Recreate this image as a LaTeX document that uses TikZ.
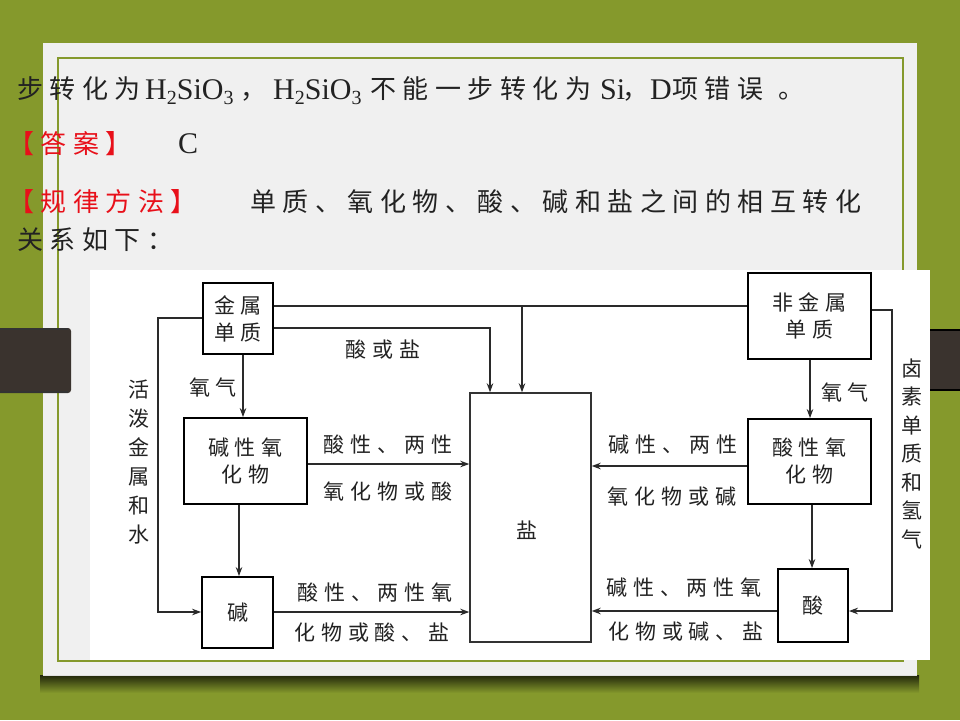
\documentclass[tikz,border=0pt]{standalone}
\usepackage{fontspec}
\setmainfont{Liberation Serif}
\newfontfamily\cjk{Noto Sans CJK SC}[LetterSpace=25]
\newfontfamily\dcjk{Noto Sans CJK SC}[LetterSpace=28]
\usetikzlibrary{arrows.meta}
\definecolor{bg}{HTML}{85992C}
\definecolor{card}{HTML}{F0F0F0}
\definecolor{barc}{HTML}{3A332E}
\definecolor{txt}{HTML}{222222}
\definecolor{redt}{HTML}{E8101A}
\definecolor{dline}{HTML}{2A2A2A}
\newcommand\subn[1]{\raisebox{-5pt}{\fontsize{20}{20}\selectfont #1}}
\tikzset{
  toptxt/.style={anchor=base west, inner sep=0, text=txt, font=\cjk\fontsize{26}{26}\selectfont},
  latxt/.style={anchor=base west, inner sep=0, text=txt, font=\fontsize{30}{30}\selectfont},
  redtxt/.style={toptxt, text=redt},
  box/.style={draw=black, line width=1.8pt, inner sep=0, align=center, text=txt,
              font=\dcjk\fontsize{21}{27}\selectfont},
  lbl/.style={inner sep=0, text=txt, font=\dcjk\fontsize{21}{27}\selectfont},
  conn/.style={draw=dline, line width=1.4pt},
  arr/.style={conn, -{Stealth[length=9pt,width=6.5pt]}}
}
\begin{document}
\begin{tikzpicture}[x=1pt,y=-1pt]
\useasboundingbox (0,0) rectangle (960,720);
% background
\fill[bg] (0,0) rectangle (960,720);
\shade[top color=black!75!bg, bottom color=bg] (40,675) rectangle (919,693);
\fill[card] (43,43) rectangle (917,676);
\draw[black!12, line width=1pt] (43,675.5) -- (917,675.5);
\draw[bg, line width=2pt] (57.5,57.5) rectangle (903,661);
\fill[white] (90,270) rectangle (930,660);
% side bars
\fill[barc, rounded corners=3pt] (-5,328) rectangle (71,393);
\draw[black!80, line width=2pt] (0,329) -- (68,329) (0,392) -- (68,392);
\fill[barc] (930,329) rectangle (960,391);
\draw[black, line width=2pt] (930,330) -- (960,330) (930,390) -- (960,390);

% top text
\node[toptxt] (l1a) at (17,98) {步转化为};
\node[latxt] (l1b) at (145,99) {H\subn{2}SiO\subn{3}};
\node[toptxt] (l1c) at (240,98) {，};
\node[latxt] (l1d) at (273,99) {H\subn{2}SiO\subn{3}};
\node[toptxt] (l1e) at (370,98) {不能一步转化为};
\node[latxt] (l1f) at (600,99) {Si};
\node[toptxt] (l1g) at (622,98) {，};
\node[latxt] (l1h) at (650,99) {D};
\node[toptxt] (l1i) at (672,98) {项错误};
\node[toptxt] (l1j) at (778,98) {。};

\node[redtxt] (l2a) at (8,153) {【答案】};
\node[latxt] (l2b) at (178,153) {C};

\node[redtxt] (l3a) at (8,211) {【规律方法】};
\node[toptxt] (l3b) at (250,211) {单质、氧化物、酸、碱和盐之间的相互转化};
\node[toptxt] (l4a) at (17,249) {关系如下：};

% diagram boxes
\node[box, minimum width=70pt, minimum height=71pt] (jsdz) at (238,318.5) {金属\\单质};
\node[box, minimum width=123pt, minimum height=86pt] (jxyhw) at (245.5,461) {碱性氧\\化物};
\node[box, minimum width=71pt, minimum height=71pt] (jian) at (237.5,612.5) {碱};
\node[box, draw=black!80, line width=1.4pt, minimum width=121pt, minimum height=249pt] (yan) at (530.5,517.5) {};
\node[lbl] (yant) at (527,530) {盐};
\node[box, minimum width=123pt, minimum height=86pt] (fjs) at (809.5,316) {非金属\\单质};
\node[box, minimum width=123pt, minimum height=85pt] (sxyhw) at (809.5,461.5) {酸性氧\\化物};
\node[box, minimum width=70pt, minimum height=73pt] (suan) at (813,605.5) {酸};

% connectors
\draw[conn] (jsdz.east |- 0,306) -- (fjs.west |- 0,306);
\draw[arr] (522,306) -- (yan.north -| 522,0);
\draw[arr] (jsdz.east |- 0,328) -- (490,328) -- (yan.north -| 490,0);
\draw[arr] (jsdz.west |- 0,318) -- (158,318) -- (158,612) -- (jian.west |- 0,612);
\draw[arr] (jsdz.south -| 243,0) -- (jxyhw.north -| 243,0);
\draw[arr] (jxyhw.east |- 0,464) -- (yan.west |- 0,464);
\draw[arr] (jxyhw.south -| 239,0) -- (jian.north -| 239,0);
\draw[arr] (jian.east |- 0,612) -- (yan.west |- 0,612);
\draw[arr] (fjs.east |- 0,310) -- (892,310) -- (892,611) -- (suan.east |- 0,611);
\draw[arr] (fjs.south -| 810,0) -- (sxyhw.north -| 810,0);
\draw[arr] (sxyhw.west |- 0,466) -- (yan.east |- 0,466);
\draw[arr] (sxyhw.south -| 812,0) -- (suan.north -| 812,0);
\draw[arr] (suan.west |- 0,611) -- (yan.east |- 0,611);

% labels
\node[lbl] (la1) at (383,350) {酸或盐};
\node[lbl] (la2) at (213,387) {氧气};
\node[lbl] (la3) at (388,445) {酸性、两性};
\node[lbl] (la4) at (388,492) {氧化物或酸};
\node[lbl] (la5) at (375,593) {酸性、两性氧};
\node[lbl] (la6) at (372,633) {化物或酸、盐};
\node[lbl] (la7) at (845,392) {氧气};
\node[lbl] (la8) at (673,445) {碱性、两性};
\node[lbl] (la9) at (672,497) {氧化物或碱};
\node[lbl] (la10) at (684,588) {碱性、两性氧};
\node[lbl] (la11) at (686,632) {化物或碱、盐};
\node[lbl, align=center, font=\dcjk\fontsize{21}{29}\selectfont] (lv1) at (139,462) {活\\泼\\金\\属\\和\\水};
\node[lbl, align=center, font=\dcjk\fontsize{21}{28.5}\selectfont] (lv2) at (912,454) {卤\\素\\单\\质\\和\\氢\\气};
\end{tikzpicture}
\end{document}
